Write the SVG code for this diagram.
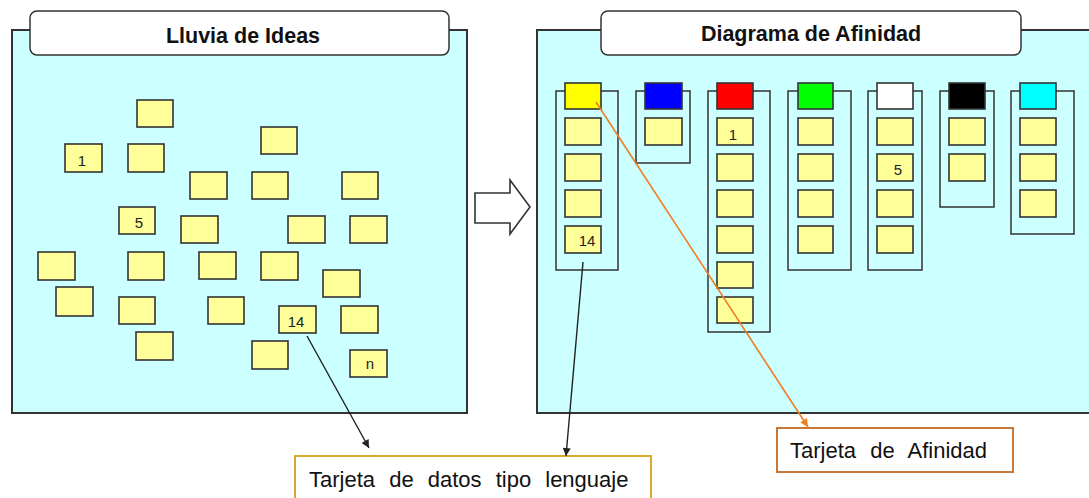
<svg xmlns="http://www.w3.org/2000/svg" width="1089" height="498" viewBox="0 0 1089 498">
<defs>
<style>
.panel{fill:#CCFFFF;stroke:#333;stroke-width:2}
.title{fill:#fff;stroke:#333;stroke-width:1.5}
.tt{font-family:"Liberation Sans",Arial,sans-serif;font-weight:bold;font-size:21.5px;fill:#111;text-anchor:middle}
.card{fill:#FFFF99;stroke:#333;stroke-width:1.6}
.hdr{stroke:#333;stroke-width:1.6}
.frame{fill:none;stroke:#333;stroke-width:1.5}
.num{font-family:"Liberation Sans",Arial,sans-serif;font-size:15px;fill:#222;text-anchor:middle}
.lbl{font-family:"Liberation Sans",Arial,sans-serif;font-size:22px;fill:#111;word-spacing:8px}
.blk{stroke:#222;stroke-width:1.4;fill:none}
.org{stroke:#F07F22;stroke-width:1.6;fill:none}
</style>
<marker id="ab" viewBox="0 0 10 10" refX="10" refY="5" markerWidth="10" markerHeight="8" markerUnits="userSpaceOnUse" orient="auto"><path d="M0,0 L10,5 L0,10 z" fill="#222"/></marker>
<marker id="ao" viewBox="0 0 10 10" refX="10" refY="5" markerWidth="10" markerHeight="8" markerUnits="userSpaceOnUse" orient="auto"><path d="M0,0 L10,5 L0,10 z" fill="#F07F22"/></marker>
</defs>

<g id="panel-lluvia">
<rect class="panel" x="12" y="30" width="455" height="383"/>
<rect class="title" x="30" y="11" width="419" height="44" rx="7"/>
<text class="tt" x="243" y="43">Lluvia de Ideas</text>
</g>

<g id="panel-afinidad">
<rect class="panel" x="537" y="30" width="570" height="383"/>
<rect class="title" x="601" y="11" width="420" height="44" rx="7"/>
<text class="tt" x="811" y="41">Diagrama de Afinidad</text>
</g>

<g id="block-arrow">
<path d="M475,193 L510,193 L510,180 L530,207 L510,234 L510,223 L475,223 Z" fill="#fff" stroke="#333" stroke-width="1.6" stroke-linejoin="miter"/>
</g>

<g id="ideas-cards">
<rect class="card" x="137" y="100" width="36" height="27"/>
<rect class="card" x="65" y="144" width="37" height="28"/>
<text class="num" x="82" y="166">1</text>
<rect class="card" x="128" y="144" width="36" height="28"/>
<rect class="card" x="261" y="127" width="36" height="27"/>
<rect class="card" x="190" y="172" width="37" height="27"/>
<rect class="card" x="252" y="172" width="36" height="27"/>
<rect class="card" x="342" y="172" width="36" height="27"/>
<rect class="card" x="119" y="207" width="36" height="27"/>
<text class="num" x="139" y="228">5</text>
<rect class="card" x="181" y="216" width="37" height="27"/>
<rect class="card" x="288" y="216" width="37" height="27"/>
<rect class="card" x="350" y="216" width="37" height="27"/>
<rect class="card" x="38" y="252" width="37" height="28"/>
<rect class="card" x="128" y="252" width="36" height="28"/>
<rect class="card" x="199" y="252" width="37" height="27"/>
<rect class="card" x="261" y="252" width="37" height="28"/>
<rect class="card" x="323" y="270" width="37" height="27"/>
<rect class="card" x="56" y="287" width="37" height="29"/>
<rect class="card" x="119" y="297" width="36" height="27"/>
<rect class="card" x="208" y="297" width="36" height="27"/>
<rect class="card" x="279" y="306" width="37" height="27"/>
<text class="num" x="296" y="327">14</text>
<rect class="card" x="341" y="306" width="37" height="27"/>
<rect class="card" x="136" y="332" width="37" height="28"/>
<rect class="card" x="252" y="341" width="36" height="28"/>
<rect class="card" x="350" y="350" width="37" height="27"/>
<text class="num" x="370" y="369">n</text>
</g>

<g id="col-yellow">
<path class="frame" d="M565,91 H556 V270 H618 V91 H601"/>
<rect class="hdr" x="565" y="83" width="36" height="26" fill="#FFFF00"/>
<rect class="card" x="565" y="118" width="36" height="27"/>
<rect class="card" x="565" y="154" width="36" height="27"/>
<rect class="card" x="565" y="190" width="36" height="27"/>
<rect class="card" x="565" y="226" width="36" height="27"/>
<text class="num" x="587" y="246">14</text>
</g>

<g id="col-blue">
<path class="frame" d="M645,91 H636 V163 H690 V91 H682"/>
<rect class="hdr" x="645" y="83" width="37" height="26" fill="#0000FF"/>
<rect class="card" x="645" y="118" width="37" height="27"/>
</g>

<g id="col-red">
<path class="frame" d="M717,91 H708 V332 H770 V91 H753"/>
<rect class="hdr" x="717" y="83" width="36" height="26" fill="#FF0000"/>
<rect class="card" x="717" y="118" width="36" height="27"/>
<text class="num" x="733" y="140">1</text>
<rect class="card" x="717" y="154" width="36" height="27"/>
<rect class="card" x="717" y="190" width="36" height="27"/>
<rect class="card" x="717" y="226" width="36" height="27"/>
<rect class="card" x="717" y="262" width="36" height="26"/>
<rect class="card" x="717" y="297" width="36" height="26"/>
</g>

<g id="col-green">
<path class="frame" d="M798,91 H788 V270 H851 V91 H833"/>
<rect class="hdr" x="798" y="83" width="35" height="26" fill="#00FF00"/>
<rect class="card" x="798" y="118" width="35" height="27"/>
<rect class="card" x="798" y="154" width="35" height="27"/>
<rect class="card" x="798" y="190" width="35" height="27"/>
<rect class="card" x="798" y="226" width="35" height="27"/>
</g>

<g id="col-white">
<path class="frame" d="M877,91 H868 V270 H922 V91 H913"/>
<rect class="hdr" x="877" y="83" width="36" height="26" fill="#FFFFFF"/>
<rect class="card" x="877" y="118" width="36" height="27"/>
<rect class="card" x="877" y="154" width="36" height="27"/>
<text class="num" x="898" y="175">5</text>
<rect class="card" x="877" y="190" width="36" height="27"/>
<rect class="card" x="877" y="226" width="36" height="27"/>
</g>

<g id="col-black">
<path class="frame" d="M949,91 H940 V207 H994 V91 H985"/>
<rect class="hdr" x="949" y="83" width="36" height="26" fill="#000000"/>
<rect class="card" x="949" y="118" width="36" height="27"/>
<rect class="card" x="949" y="154" width="36" height="27"/>
</g>

<g id="col-cyan">
<path class="frame" d="M1020,91 H1011 V234 H1074 V91 H1056"/>
<rect class="hdr" x="1020" y="83" width="36" height="26" fill="#00FFFF"/>
<rect class="card" x="1020" y="118" width="36" height="27"/>
<rect class="card" x="1020" y="154" width="36" height="27"/>
<rect class="card" x="1020" y="190" width="36" height="27"/>
</g>

<g id="label-datos">
<rect x="295" y="456" width="356" height="60" fill="#fff" stroke="#D9A92B" stroke-width="2"/>
<text class="lbl" x="309" y="487">Tarjeta de datos tipo lenguaje</text>
</g>

<g id="label-afinidad">
<rect x="777" y="428" width="236" height="44" fill="#fff" stroke="#C97837" stroke-width="2"/>
<text class="lbl" x="790" y="458">Tarjeta de Afinidad</text>
</g>

<g id="connectors">
<line class="blk" x1="307" y1="336" x2="369" y2="448" marker-end="url(#ab)"/>
<line class="blk" x1="583" y1="262" x2="566" y2="456" marker-end="url(#ab)"/>
<line class="org" x1="596" y1="102" x2="808" y2="427" marker-end="url(#ao)"/>
</g>
</svg>
